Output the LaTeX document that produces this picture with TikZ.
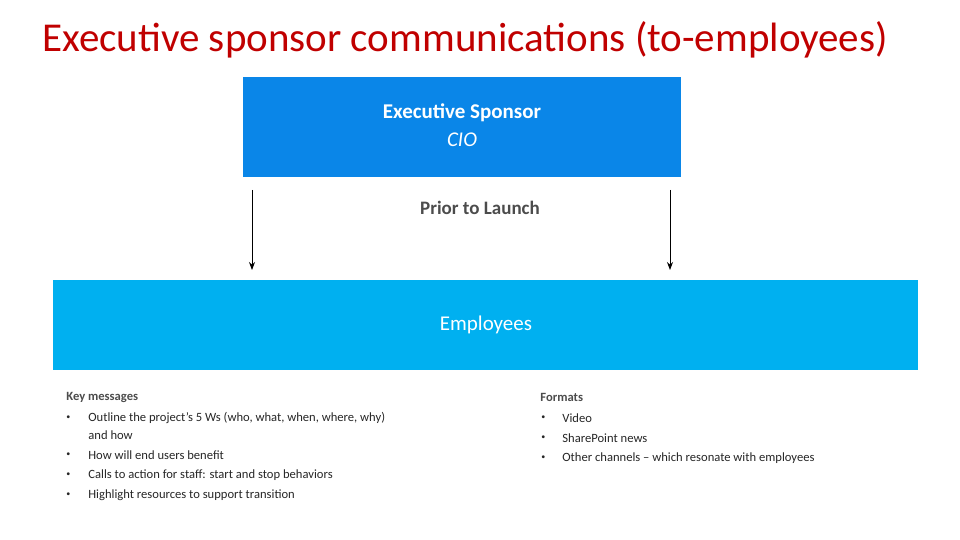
\documentclass[tikz,border=0pt]{standalone}
\usepackage{fontspec}
\setmainfont{Carlito}
\usetikzlibrary{arrows.meta}
\definecolor{tred}{RGB}{192,0,0}
\definecolor{blueA}{RGB}{10,134,232}
\definecolor{blueB}{RGB}{0,176,240}
\begin{document}
\begin{tikzpicture}[x=0.5pt,y=-0.5pt,
  small/.style={anchor=west,inner sep=0,font=\fontsize{6.3}{7.5}\selectfont,text=black!85},
  bul/.style={anchor=west,inner sep=0,font=\fontsize{4}{5}\selectfont,text=black!85},
  arr/.style={-{Stealth[length=4pt,width=3pt]},thin}]
\useasboundingbox (0,0) rectangle (960,540);
\node[anchor=west,inner sep=0,text=tred,font=\fontsize{20.5}{24}\selectfont] (title) at (42,40) {Executive sponsor communications (to-employees)};
\fill[blueA] (243,77) rectangle (681,177);
\node[text=white,font=\fontsize{10.5}{12}\selectfont\bfseries,inner sep=0] (es) at (462,113) {Executive Sponsor};
\node[text=white,font=\fontsize{10.5}{12}\selectfont\itshape,inner sep=0] (cio) at (462,140) {CIO};
\node[text=black!70,font=\fontsize{9.5}{11}\selectfont\bfseries,inner sep=0] (pl) at (480,208) {Prior to Launch};
\fill[blueB] (53,280) rectangle (918,370);
\node[text=white,font=\fontsize{10.5}{12}\selectfont,inner sep=0] (emp) at (486,325) {Employees};
\coordinate (a1) at (252,190); \coordinate (b1) at (252,270);
\coordinate (a2) at (670,190); \coordinate (b2) at (670,270);
\draw[arr] (a1) -- (b1);
\draw[arr] (a2) -- (b2);
\node[small,font=\fontsize{6.3}{7.5}\selectfont\bfseries,text=black!70] (km) at (66,397) {Key messages};
\foreach \y/\t [count=\i] in {418/{Outline the project’s 5 Ws (who, what, when, where, why)},455/{How will end users benefit},475/{Calls to action for staff: start and stop behaviors},495/{Highlight resources to support transition}}{
  \node[bul] (kb\i) at (66,\y) {•};
  \node[small] (kt\i) at (88,\y) {\t};
}
\node[small] (kt0) at (88,435) {and how};
\node[small,font=\fontsize{6.3}{7.5}\selectfont\bfseries,text=black!70] (fm) at (540,397) {Formats};
\foreach \y/\t [count=\i] in {418/Video,438/SharePoint news,458/{Other channels – which resonate with employees}}{
  \node[bul] (fb\i) at (541,\y) {•};
  \node[small] (ft\i) at (562,\y) {\t};
}
\end{tikzpicture}
\end{document}
